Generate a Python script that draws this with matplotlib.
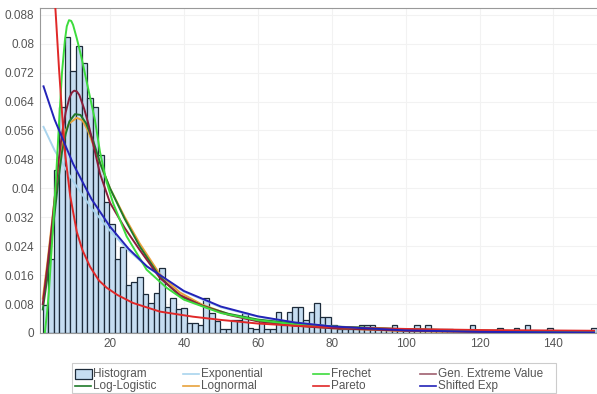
import numpy as np
import matplotlib
matplotlib.use('Agg')
import matplotlib.pyplot as plt
from matplotlib.patches import Rectangle
from matplotlib.lines import Line2D

plt.rcParams['font.family'] = ['Liberation Sans', 'DejaVu Sans']

# histogram (density per bin, bins of equal width)
bin_start = 1.8
bin_width = 1.5
hist_heights = [
    0.0078, 0.0205, 0.045, 0.0625, 0.0818, 0.0724, 0.0793, 0.0747, 0.065, 0.0626,
    0.0493, 0.0361, 0.0300, 0.0205, 0.0239, 0.0133, 0.0142, 0.0155, 0.0108, 0.0082,
    0.011, 0.0179, 0.0073, 0.0096, 0.0066, 0.0068, 0.0028, 0.0028, 0.0022, 0.0097,
    0.0055, 0.0033, 0.0011, 0.0011, 0.0036, 0.0036, 0.0055, 0.0015, 0.0011, 0.0033,
    0.0011, 0.0011, 0.0059, 0.0022, 0.0059, 0.0073, 0.0073, 0.0036, 0.0059, 0.0082,
    0.0045, 0.0045, 0.0022, 0.0011, 0.0011, 0.0011, 0.0011, 0.0022, 0.0022, 0.0022,
    0.0011, 0.0011, 0.0011, 0.0022, 0.0011, 0.0011, 0.0011, 0.0022, 0.0011, 0.0022,
    0.0011, 0.0011, 0.0011, 0.0011, 0, 0, 0, 0.0022, 0, 0,
    0, 0, 0.0013, 0, 0, 0.0013, 0, 0.0022, 0, 0,
    0, 0.0013, 0, 0, 0, 0, 0, 0, 0, 0.0013,
]

# fitted curves, points
exp_x = [2, 5, 10, 15, 20, 25, 30, 40, 50, 60, 70, 80, 100, 120, 151]
exp_y = [0.057, 0.0505, 0.042, 0.0345, 0.0283, 0.0228, 0.0183, 0.0114, 0.0071,
         0.0045, 0.0028, 0.0018, 0.0007, 0.0003, 0.0001]

frechet_x = [2.35, 3.0, 3.5, 4.5, 5.5, 6.2, 7.0, 7.8, 8.3, 8.9, 9.5, 10, 11, 12.2,
             14, 15.9, 17.3, 19, 20.8, 24.5, 29.9, 35.3, 40, 50, 60, 70, 80, 100,
             120, 151]
frechet_y = [0, 0.006, 0.012, 0.028, 0.045, 0.058, 0.072, 0.081, 0.0848, 0.0865,
             0.0863, 0.0852, 0.0815, 0.0765, 0.068, 0.059, 0.050, 0.042, 0.036,
             0.0267, 0.0175, 0.0125, 0.0092, 0.0055, 0.0035, 0.0024, 0.0017, 0.001,
             0.0006, 0.0004]

gev_x = [1.8, 3, 4, 5, 6, 7, 8, 9, 9.7, 10.3, 11, 11.7, 13, 14.1, 15.5, 17.3, 20,
         24, 28, 33.5, 38.9, 45, 52, 60, 70, 80, 100, 120, 151]
gev_y = [0.008, 0.018, 0.027, 0.037, 0.047, 0.055, 0.061, 0.065, 0.0665, 0.067,
         0.0668, 0.0658, 0.062, 0.058, 0.052, 0.044, 0.036, 0.029, 0.023, 0.0152,
         0.0105, 0.0075, 0.005, 0.0032, 0.002, 0.0013, 0.0006, 0.0003, 0.0001]

loglog_x = [1.8, 3, 4, 5, 6, 7, 8, 9, 10.5, 12, 13.5, 15.5, 17.3, 20, 24, 28,
            33.5, 38.9, 45, 52, 60, 70, 80, 100, 120, 151]
loglog_y = [0.0065, 0.015, 0.024, 0.033, 0.042, 0.050, 0.055, 0.0585, 0.0605,
            0.0603, 0.058, 0.053, 0.047, 0.040, 0.0315, 0.024, 0.0155, 0.0102,
            0.0075, 0.0053, 0.0037, 0.0026, 0.0018, 0.001, 0.0006, 0.0003]

lognorm_x = [1.8, 3, 4, 5, 6, 7, 8, 9, 11, 12.5, 14, 17.3, 20, 24, 28, 33.5, 38.9,
             45, 52, 60, 70, 80, 100, 120, 151]
lognorm_y = [0.0095, 0.019, 0.028, 0.037, 0.046, 0.052, 0.056, 0.058, 0.0595,
             0.0588, 0.056, 0.047, 0.040, 0.032, 0.0248, 0.0162, 0.0112, 0.0078,
             0.0052, 0.0033, 0.002, 0.0013, 0.0005, 0.0002, 0.0001]

pareto_x = [4.9, 5.5, 6.2, 7, 7.8, 9.2, 11, 12.5, 14.6, 17, 19.1, 22, 26.2, 33.5,
            42.4, 50, 60, 70, 80, 100, 120, 151]
pareto_y = [0.095, 0.085, 0.073, 0.061, 0.050, 0.038, 0.028, 0.023, 0.0183, 0.0145,
            0.0125, 0.0105, 0.0083, 0.0059, 0.0045, 0.0036, 0.0026, 0.002, 0.0016,
            0.0011, 0.0008, 0.0006]

shexp_x = [2, 5, 10, 15, 20, 25, 30, 40, 50, 60, 70, 80, 100, 120, 151]
shexp_y = [0.0682, 0.059, 0.0468, 0.037, 0.0294, 0.0233, 0.0184, 0.0116, 0.0073,
           0.0046, 0.0029, 0.0018, 0.0007, 0.0003, 0.0001]

ytick_vals = [0, 0.008, 0.016, 0.024, 0.032, 0.04, 0.048, 0.056, 0.064, 0.072, 0.08, 0.088]
ytick_labels = ['0', '0.008', '0.016', '0.024', '0.032', '0.04', '0.048', '0.056',
                '0.064', '0.072', '0.08', '0.088']
xtick_vals = [20, 40, 60, 80, 100, 120, 140]

colors = {
    'Exponential': '#a9d4ee',
    'Frechet': '#3ddc3d',
    'Gen. Extreme Value': '#8a1f3c',
    'Log-Logistic': '#1f7a2a',
    'Lognormal': '#e8a23c',
    'Pareto': '#e02828',
    'Shifted Exp': '#2323b8',
}
hist_face = '#c6ddf1'
hist_edge = '#1d2b3a'

W, H = 597, 394
fig = plt.figure(figsize=(W / 100, H / 100), dpi=100)
ax = fig.add_axes([0.067, 0.155, 0.933, 0.825])

lefts = bin_start + bin_width * np.arange(len(hist_heights))
ax.bar(lefts, hist_heights, width=bin_width, align='edge', color=hist_face,
       edgecolor=hist_edge, linewidth=0.9, zorder=2)

lw = 1.4
ax.plot(exp_x, exp_y, color=colors['Exponential'], lw=lw, zorder=3)
ax.plot(lognorm_x, lognorm_y, color=colors['Lognormal'], lw=lw, zorder=3)
ax.plot(loglog_x, loglog_y, color=colors['Log-Logistic'], lw=lw, zorder=3)
ax.plot(gev_x, gev_y, color=colors['Gen. Extreme Value'], lw=lw, zorder=3)
ax.plot(frechet_x, frechet_y, color=colors['Frechet'], lw=lw, zorder=3)
ax.plot(pareto_x, pareto_y, color=colors['Pareto'], lw=lw, zorder=3)
ax.plot(shexp_x, shexp_y, color=colors['Shifted Exp'], lw=lw, zorder=3)

ax.set_xlim(1.05, 151.8)
ax.set_ylim(0, 0.0899)
ax.set_yticks(ytick_vals)
ax.set_yticklabels(ytick_labels)
ax.set_xticks(xtick_vals)
ax.tick_params(length=0, labelsize=8.5, colors='#555555', pad=4)
ax.grid(True, color='#f2f2f2', lw=0.8, zorder=0)
for s in ['left', 'top', 'bottom']:
    ax.spines[s].set_color('#999999')
ax.spines['right'].set_visible(False)

# legend drawn by hand to match the fixed column grid of the original
def fx(px):
    return px / W

def fy(py):
    return 1 - py / H

fig.patches.append(Rectangle((fx(72), fy(393)), fx(556) - fx(72), fy(363) - fy(393),
                             transform=fig.transFigure, fill=False,
                             edgecolor='#cccccc', lw=0.8))
col_px = [75, 183, 313, 420]
row_py = [374, 386]
entries = [['Histogram', 'Exponential', 'Frechet', 'Gen. Extreme Value'],
           ['Log-Logistic', 'Lognormal', 'Pareto', 'Shifted Exp']]
for r, row in enumerate(entries):
    for c, name in enumerate(row):
        x0 = col_px[c]
        y0 = row_py[r]
        if name == 'Histogram':
            fig.patches.append(Rectangle((fx(x0), fy(y0 + 5)), fx(17), 10 / H,
                                         transform=fig.transFigure,
                                         facecolor=hist_face, edgecolor=hist_edge,
                                         lw=0.9))
        else:
            c_line = colors[name]
            if name == 'Gen. Extreme Value':
                c_line = '#a06070'
            fig.lines.append(Line2D([fx(x0), fx(x0 + 16)], [fy(y0), fy(y0)],
                                    transform=fig.transFigure, color=c_line, lw=1.2))
        fig.text(fx(x0 + 18), fy(y0), name, fontsize=8.5, color='#555555',
                 va='center', ha='left')

fig.savefig('out.png', dpi=100)
